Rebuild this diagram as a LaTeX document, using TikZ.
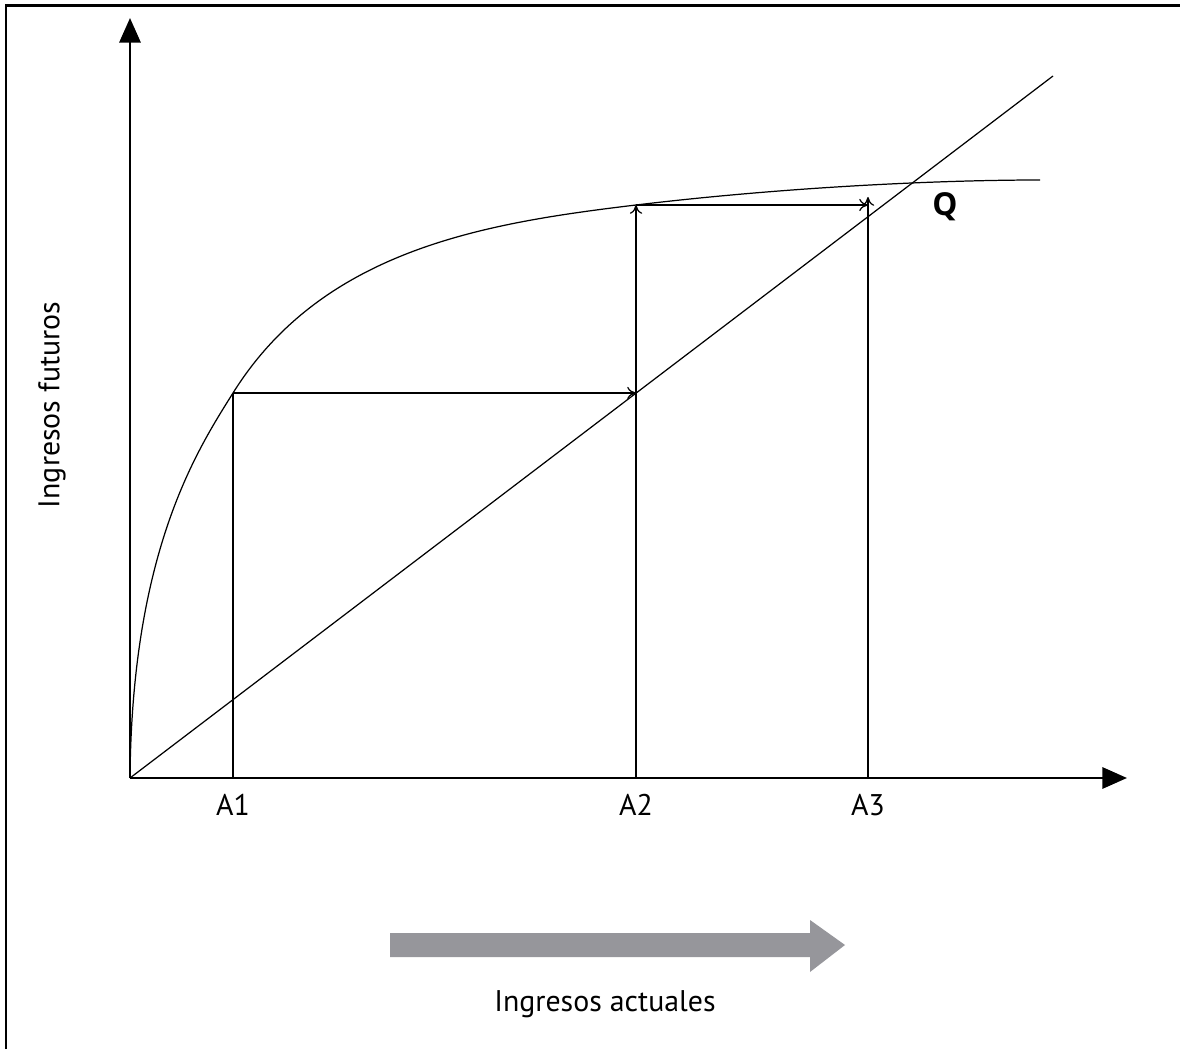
\documentclass[tikz,border=0pt]{standalone}
\usepackage{fontspec}
\setmainfont{PT Sans}
\newfontfamily\qfont{Open Sans}
\usepackage{tikz}
\usetikzlibrary{arrows.meta}

\definecolor{arrowgray}{RGB}{150,150,155}
\tikzset{
  axis/.style={line width=1.6pt,-{Triangle[length=14pt,width=12pt]}},
  guide/.style={line width=0.7pt,-{To[length=5pt,width=7pt]}},
  thin line/.style={line width=0.7pt},
  tick label/.style={font=\fontsize{17}{20}\selectfont},
}

\begin{document}
\begin{tikzpicture}[x=0.02cm,y=0.02cm]
  \useasboundingbox (0,0) rectangle (1180,1049);
  % frame
  \draw[line width=1.7pt] (6,0) -- (6,1043) -- (1180,1043);
  \coordinate (O) at (130,271);
  \coordinate (ytop) at (130,1031);
  \coordinate (xend) at (1127,271);
  \coordinate (diag) at (1053,973);
  \coordinate (cend) at (1040,869);
  \coordinate (A1b) at (233,271);
  \coordinate (A2b) at (636,271);
  \coordinate (A3b) at (868,271);
  \coordinate (A1t) at (233,656);
  \coordinate (A2m) at (636,656);
  \coordinate (A2t) at (636,844);
  \coordinate (A3m) at (868,844);
  \coordinate (A3t) at (868,852);
  % axes
  \draw[axis] (O) -- (ytop);
  \draw[axis] (O) -- (xend);
  \draw[thin line] (O) -- (diag);
  % curve
  \draw[thin line] (O) .. controls (132,500) and (198,600) .. (A1t)
    .. controls (323,800) and (486,826) .. (A2t)
    .. controls (786,862) and (940,869) .. (cend);
  % steps
  \draw[thin line] (A1b) -- (A1t);
  \draw[guide] (A1t) -- (A2m);
  \draw[guide] (A2b) -- (A2t);
  \draw[guide] (A2t) -- (A3m);
  \draw[guide] (A3b) -- (A3t);
  % labels
  \node[tick label] (A1) at (233,244) {A1};
  \node[tick label] (A2) at (636,244) {A2};
  \node[tick label] (A3) at (868,244) {A3};
  \node[font=\fontsize{18}{22}\selectfont\qfont\bfseries] (Q) at (945,842) {Q};
  \node[tick label,rotate=90] (ylab) at (52,644) {Ingresos futuros};
  % big arrow
  \fill[arrowgray] (390,92) -- (810,92) -- (810,77) -- (845,104) -- (810,129) -- (810,116) -- (390,116) -- cycle;
  \node[tick label] (xlab) at (605,45) {Ingresos actuales};
\end{tikzpicture}
\end{document}
